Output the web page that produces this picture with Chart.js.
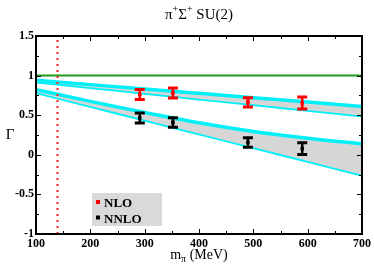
<!DOCTYPE html>
<html><head><meta charset="utf-8">
<script src="https://cdn.jsdelivr.net/npm/chart.js@4.4.0/dist/chart.umd.min.js"></script>
<style>html,body{margin:0;padding:0;background:#fff}#wrap{width:374px;height:267px}</style>
</head><body><div id="wrap"><canvas id="c" width="374" height="267"></canvas></div>
<script>
const xTicks = [100, 200, 300, 400, 500, 600, 700];
const yTicks = [-1, -0.5, 0, 0.5, 1, 1.5];
const mpi = [291, 352, 490, 590];
const nloVal = [0.762, 0.781, 0.662, 0.654];
const nloErr = [0.064, 0.063, 0.058, 0.075];
const nnloVal = [0.465, 0.409, 0.156, 0.078];
const nnloErr = [0.063, 0.060, 0.060, 0.075];
const bandX = [100, 200, 300, 400, 500, 600, 700];
const nloUpper = [0.941, 0.886, 0.831, 0.776, 0.721, 0.666, 0.611];
const nloLower = [0.924, 0.852, 0.781, 0.709, 0.637, 0.566, 0.494];
const nnloUpper = [0.823, 0.675, 0.535, 0.405, 0.295, 0.210, 0.139];
const nnloLower = [0.789, 0.615, 0.442, 0.268, 0.094, -0.079, -0.253];
const physMpi = [139.57, 139.57];
const physY = [-1, 1.5];
const unitX = [100, 700];
const unitY = [1, 1];
const legendLabels = ['NLO', 'NNLO'];

const xy = (xs, ys) => xs.map((x, i) => ({x: x, y: ys[i]}));
const CYAN = '#00f0f8', GRAY = '#d6d6d6';
const SERIF = '"Liberation Serif", "DejaVu Serif", serif';

function bandLine(data, fill) {
  return {data: data, borderColor: CYAN, borderWidth: 3.5, pointRadius: 0,
    fill: fill, backgroundColor: GRAY, cubicInterpolationMode: 'monotone', order: 5};
}

const frame = {
  id: 'frame',
  afterDatasetsDraw(chart) {
    const ctx = chart.ctx, xs = chart.scales.x, ys = chart.scales.y;
    ctx.save();
    const bars = [[nloVal, nloErr, '#ff0000'], [nnloVal, nnloErr, '#000000']];
    bars.forEach(([vals, errs, col]) => {
      mpi.forEach((m, i) => {
        const px = xs.getPixelForValue(m);
        const y1 = ys.getPixelForValue(vals[i] + errs[i]);
        const y2 = ys.getPixelForValue(vals[i] - errs[i]);
        ctx.strokeStyle = col; ctx.lineWidth = 2.5;
        ctx.beginPath(); ctx.moveTo(px, y1); ctx.lineTo(px, y2); ctx.stroke();
        ctx.lineWidth = 3;
        ctx.beginPath();
        ctx.moveTo(px - 5, y1); ctx.lineTo(px + 5, y1);
        ctx.moveTo(px - 5, y2); ctx.lineTo(px + 5, y2);
        ctx.stroke();
      });
    });
    ctx.restore();
  },
  afterDraw(chart) {
    const ctx = chart.ctx, a = chart.chartArea, xs = chart.scales.x, ys = chart.scales.y;
    ctx.save();
    ctx.strokeStyle = '#000'; ctx.lineWidth = 1;
    for (let v = 100; v <= 700; v += 50) {
      const p = Math.round(xs.getPixelForValue(v)) + 0.5;
      const len = (v % 100 === 0) ? 5 : 3;
      ctx.beginPath();
      ctx.moveTo(p, a.bottom); ctx.lineTo(p, a.bottom - len);
      ctx.moveTo(p, a.top); ctx.lineTo(p, a.top + len);
      ctx.stroke();
    }
    for (let k = 0; k <= 10; k++) {
      const v = -1 + k * 0.25;
      const p = Math.round(ys.getPixelForValue(v)) + 0.5;
      const len = (k % 2 === 0) ? 5 : 3;
      ctx.beginPath();
      ctx.moveTo(a.left, p); ctx.lineTo(a.left + len, p);
      ctx.moveTo(a.right, p); ctx.lineTo(a.right - len, p);
      ctx.stroke();
    }
    ctx.lineWidth = 2;
    ctx.strokeRect(a.left, a.top, a.right - a.left, a.bottom - a.top);
    ctx.fillStyle = '#000';
    ctx.textBaseline = 'alphabetic';
    const cx = (a.left + a.right) / 2;
    const parts = [['\u03c0', 15, 0], ['+', 10, -7], ['\u03a3', 15, 0], ['+', 10, -7], [' SU(2)', 15, 0]];
    let tw = 0;
    parts.forEach(p => { ctx.font = p[1] + 'px ' + SERIF; tw += ctx.measureText(p[0]).width; });
    let tx = cx - tw / 2;
    parts.forEach(p => { ctx.font = p[1] + 'px ' + SERIF; ctx.fillText(p[0], tx, 19 + p[2]); tx += ctx.measureText(p[0]).width; });
    const xparts = [['m', 14, 0], ['\u03c0', 10, 3], [' (MeV)', 14, 0]];
    tw = 0;
    xparts.forEach(p => { ctx.font = p[1] + 'px ' + SERIF; tw += ctx.measureText(p[0]).width; });
    tx = cx - tw / 2;
    xparts.forEach(p => { ctx.font = p[1] + 'px ' + SERIF; ctx.fillText(p[0], tx, 259 + p[2]); tx += ctx.measureText(p[0]).width; });
    ctx.font = '15px ' + SERIF;
    ctx.textAlign = 'center';
    ctx.fillText('\u0393', 10, 139);
    ctx.textAlign = 'left';
    ctx.fillStyle = '#d9d9d9';
    ctx.fillRect(92, 193, 70, 33);
    const cols = ['#ff0000', '#000000'];
    ctx.font = 'bold 13px ' + SERIF;
    legendLabels.forEach((t, i) => {
      const yy = 202 + i * 15.5;
      ctx.fillStyle = cols[i];
      ctx.fillRect(96, yy - 2, 4, 4);
      ctx.fillStyle = '#000';
      ctx.fillText(t, 104, yy + 5);
    });
    ctx.restore();
  }
};

new Chart(document.getElementById('c'), {
  type: 'line',
  data: {
    datasets: [
      {data: xy(mpi, nloVal), showLine: false, pointStyle: 'rect', pointRadius: 2.5,
        pointBackgroundColor: '#ff0000', pointBorderWidth: 0, order: 0},
      {data: xy(mpi, nnloVal), showLine: false, pointStyle: 'rect', pointRadius: 2.5,
        pointBackgroundColor: '#000000', pointBorderWidth: 0, order: 0},
      {data: xy(physMpi, physY), borderColor: '#ff2020', borderWidth: 2, borderDash: [2, 4],
        pointRadius: 0, fill: false, order: 1},
      {data: xy(unitX, unitY), borderColor: '#1f9a1f', borderWidth: 2, pointRadius: 0, fill: false, order: 2},
      bandLine(xy(bandX, nloUpper), '+1'),
      bandLine(xy(bandX, nloLower), false),
      bandLine(xy(bandX, nnloUpper), '+1'),
      bandLine(xy(bandX, nnloLower), false)
    ]
  },
  options: {
    responsive: false, animation: false, devicePixelRatio: 1,
    layout: {padding: {top: 36, right: 10, left: 0, bottom: 0}},
    plugins: {legend: {display: false}, tooltip: {enabled: false}, title: {display: false}},
    scales: {
      x: {type: 'linear', min: 100, max: 700,
        afterBuildTicks: s => { s.ticks = xTicks.map(v => ({value: v})); },
        afterFit: s => { s.height = 33; },
        grid: {display: false, drawTicks: false}, border: {display: false},
        ticks: {padding: 3, color: '#000', font: {family: SERIF, size: 12, weight: 'bold'}, callback: v => String(v), maxRotation: 0}},
      y: {type: 'linear', min: -1, max: 1.5,
        afterBuildTicks: s => { s.ticks = yTicks.map(v => ({value: v})); },
        afterFit: s => { s.width = 36; },
        grid: {display: false, drawTicks: false}, border: {display: false},
        ticks: {padding: 2, color: '#000', font: {family: SERIF, size: 12, weight: 'bold'}, callback: v => String(v)}}
    }
  },
  plugins: [frame]
});
</script></body></html>
